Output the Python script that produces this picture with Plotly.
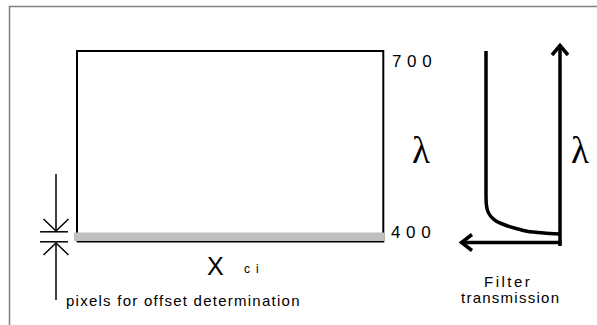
import plotly.graph_objects as go

# ---- figure content -------------------------------------------------------
W, H = 597, 325

wl_ticks = [400, 700]                       # wavelength tick labels (nm)
wl_pix = {400: 241.5, 700: 51.0}            # detector rows for those wavelengths

det_left, det_right = 77.0, 383.3           # detector (CCD) extent along X_ci
offset_rows = [232.5, 241.0]                # rows used for offset determination

# filter transmission curve (transmission to the left, wavelength upward)
filter_x = [486.0, 486.0, 486.3, 487.5, 490.5, 496.0, 505.0, 516.0, 528.0, 544.0, 560.0]
filter_y = [51.0, 195.0, 204.0, 210.5, 216.0, 221.0, 225.0, 228.5, 231.5, 233.0, 234.0]

x_label = "X"
x_sub = "c\u2002i"
offset_label = "pixels for offset determination"
filter_label = ["Filter", "transmission"]
lam = "\u03bb"

BLACK = "#000000"
FRAME = "#808080"
BAR = "#c0c0c0"


def spaced(s, gap):
    return gap.join(list(s))


fig = go.Figure()

shapes = []


def seg(x0, y0, x1, y1, w=2, c=BLACK):
    shapes.append(dict(type="line", xref="x", yref="y", x0=x0, y0=y0, x1=x1, y1=y1,
                       line=dict(color=c, width=w)))


def path(pts, w=2, c=BLACK):
    d = "M " + " L ".join(f"{x},{y}" for x, y in pts)
    shapes.append(dict(type="path", xref="x", yref="y", path=d,
                       line=dict(color=c, width=w)))


# outer frame (only top and left edges fall inside the page)
path([(9.5, H + 2), (9.5, 6.5), (W + 2, 6.5)], w=1.5, c=FRAME)

# detector outline
top, bot = wl_pix[700], wl_pix[400]
path([(det_left, bot), (det_left, top), (det_right, top), (det_right, bot), (det_left, bot)], w=2)

# shaded offset rows
shapes.append(dict(type="rect", xref="x", yref="y", x0=74, x1=det_right + 0.7,
                   y0=offset_rows[0], y1=offset_rows[1], fillcolor=BAR, line=dict(width=0)))

# offset-row indicator arrows on the left
ax = 56
seg(ax, 174, ax, 231, w=1.5)
path([(43.5, 219), (ax, 231), (68.5, 219)], w=1.5)
seg(40, 231.8, 68, 231.8, w=1.5)
seg(40, 241.8, 68, 241.8, w=1.5)
seg(ax, 243, ax, 300, w=1.5)
path([(43.5, 255), (ax, 243), (68.5, 255)], w=1.5)

# filter transmission axes
seg(560, 246, 560, 46, w=3.5)
path([(552, 55), (560, 45.5), (568, 55)], w=3.5)
seg(561.5, 242.5, 462, 242.5, w=3.5)
path([(472, 234.5), (461.5, 242.5), (472, 250.5)], w=3.5)

fig.add_trace(go.Scatter(x=filter_x, y=filter_y, mode="lines",
                         line=dict(color=BLACK, width=3.5, shape="spline", smoothing=0.5),
                         hoverinfo="skip", showlegend=False))

ann = []
SANS = "Liberation Sans, Arial, sans-serif"
SERIF = "Liberation Serif, Times New Roman, serif"

ann.append(dict(x=389.5, y=wl_pix[700] - 1, text=spaced(str(wl_ticks[1]), "\u2004"),
                xanchor="left", yanchor="top", font=dict(family=SANS, size=17, color=BLACK)))
ann.append(dict(x=388.5, y=wl_pix[400] + 2.5, text=spaced(str(wl_ticks[0]), "\u2004"),
                xanchor="left", yanchor="bottom", font=dict(family=SANS, size=17, color=BLACK)))

ann.append(dict(x=421, y=150, text=lam, xanchor="center", yanchor="middle",
                font=dict(family=SERIF, size=37, color=BLACK)))
ann.append(dict(x=580, y=150, text=lam, xanchor="center", yanchor="middle",
                font=dict(family=SERIF, size=37, color=BLACK)))

ann.append(dict(x=215.5, y=266, text=x_label, xanchor="center", yanchor="middle",
                font=dict(family=SANS, size=25, color=BLACK)))
ann.append(dict(x=251, y=268.5, text=x_sub, xanchor="center", yanchor="middle",
                font=dict(family=SANS, size=12, color=BLACK)))

ann.append(dict(x=64, y=300, text=spaced(offset_label, "\u200a"), xanchor="left", yanchor="middle",
                font=dict(family=SANS, size=15, color=BLACK)))

ann.append(dict(x=507, y=281, text=spaced(filter_label[0], "\u2006"), xanchor="center", yanchor="middle",
                font=dict(family=SANS, size=15, color=BLACK)))
ann.append(dict(x=510, y=297.5, text=spaced(filter_label[1], "\u200a"), xanchor="center", yanchor="middle",
                font=dict(family=SANS, size=15, color=BLACK)))

for a in ann:
    a.update(xref="x", yref="y", showarrow=False)

fig.update_layout(
    width=W, height=H,
    margin=dict(l=0, r=0, t=0, b=0),
    paper_bgcolor="white", plot_bgcolor="white",
    shapes=shapes, annotations=ann,
    xaxis=dict(range=[0, W], visible=False, fixedrange=True),
    yaxis=dict(range=[H, 0], visible=False, fixedrange=True),
    showlegend=False,
)

fig.write_html("out.html")
